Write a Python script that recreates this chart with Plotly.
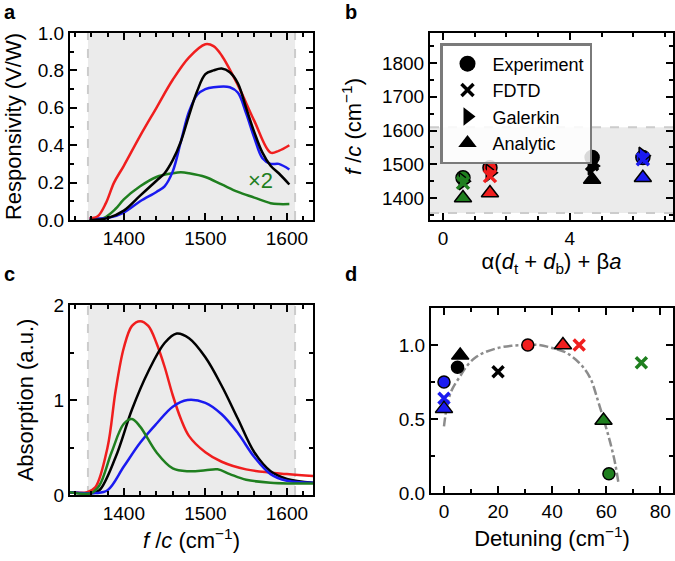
import plotly.graph_objects as go

FONT = "Liberation Sans, Arial, sans-serif"
RED, BLUE, GREEN, BLACK = "#f01e1e", "#1a1af0", "#1f7f1f", "#000000"

# panel a: responsivity spectra
a_red_x = [1358, 1368, 1378, 1388, 1400, 1420, 1440, 1460, 1480, 1500, 1510, 1520, 1540, 1560, 1580, 1590, 1603]
a_red_y = [0.01, 0.02, 0.09, 0.2, 0.29, 0.45, 0.6, 0.75, 0.87, 0.94, 0.93, 0.88, 0.72, 0.53, 0.36, 0.37, 0.4]
a_blk_x = [1358, 1380, 1400, 1420, 1440, 1450, 1460, 1470, 1480, 1490, 1500, 1510, 1520, 1530, 1540, 1550, 1560, 1570, 1580, 1590, 1603]
a_blk_y = [0.0, 0.01, 0.05, 0.13, 0.21, 0.25, 0.32, 0.42, 0.56, 0.69, 0.78, 0.8, 0.81, 0.79, 0.73, 0.6, 0.47, 0.36, 0.29, 0.25, 0.19]
a_blu_x = [1358, 1380, 1400, 1420, 1440, 1450, 1460, 1470, 1480, 1490, 1500, 1510, 1530, 1540, 1550, 1560, 1570, 1580, 1590, 1603]
a_blu_y = [0.01, 0.01, 0.04, 0.1, 0.15, 0.18, 0.26, 0.42, 0.58, 0.67, 0.7, 0.71, 0.71, 0.68, 0.57, 0.44, 0.33, 0.3, 0.3, 0.27]
a_grn_x = [1358, 1375, 1390, 1400, 1420, 1440, 1460, 1470, 1480, 1500, 1520, 1540, 1560, 1580, 1590, 1603]
a_grn_y = [0.0, 0.01, 0.06, 0.11, 0.18, 0.23, 0.25, 0.255, 0.25, 0.23, 0.19, 0.15, 0.12, 0.09, 0.085, 0.085]

# panel c: absorption spectra
c_red_x = [1334, 1355, 1365, 1380, 1390, 1400, 1410, 1420, 1430, 1440, 1450, 1460, 1470, 1480, 1500, 1520, 1550, 1600, 1632]
c_red_y = [0.03, 0.03, 0.08, 0.5, 1.1, 1.55, 1.78, 1.83, 1.78, 1.6, 1.35, 1.05, 0.8, 0.62, 0.45, 0.35, 0.27, 0.22, 0.2]
c_blk_x = [1334, 1360, 1370, 1390, 1410, 1430, 1450, 1465, 1480, 1500, 1520, 1540, 1560, 1580, 1600, 1632]
c_blk_y = [0.03, 0.02, 0.05, 0.4, 0.9, 1.3, 1.6, 1.7, 1.65, 1.45, 1.15, 0.8, 0.45, 0.25, 0.17, 0.13]
c_blu_x = [1334, 1365, 1380, 1400, 1420, 1440, 1460, 1478, 1500, 1520, 1540, 1560, 1580, 1600, 1632]
c_blu_y = [0.03, 0.02, 0.05, 0.3, 0.55, 0.75, 0.93, 1.0, 0.97, 0.85, 0.65, 0.4, 0.22, 0.15, 0.13]
c_grn_x = [1334, 1360, 1370, 1385, 1400, 1410, 1420, 1440, 1460, 1480, 1500, 1515, 1530, 1550, 1580, 1632]
c_grn_y = [0.03, 0.02, 0.1, 0.45, 0.75, 0.8, 0.72, 0.45, 0.28, 0.25, 0.26, 0.27, 0.22, 0.16, 0.13, 0.12]

# panel b: resonance frequency vs geometry parameter
b_x = [0.63, 1.48, 4.7, 6.3]
b_colors = [GREEN, RED, BLACK, BLUE]
b_exp = [1460, 1490, 1520, 1520]
b_fdtd = [1445, 1465, 1500, 1515]
b_gal = [1450, 1475, 1495, 1525]
b_ana = [1400, 1415, 1455, 1460]

# panel d: normalised peak vs detuning
d_exp_x, d_exp_y = [0, 5, 31, 61], [0.75, 0.85, 1.0, 0.13]
d_exp_c = [BLUE, BLACK, RED, GREEN]
d_fdtd_x, d_fdtd_y = [0, 20, 50, 73], [0.64, 0.82, 1.0, 0.88]
d_fdtd_c = [BLUE, BLACK, RED, GREEN]
d_ana_x, d_ana_y = [0, 6, 44, 59], [0.57, 0.93, 1.0, 0.49]
d_ana_c = [BLUE, BLACK, RED, GREEN]
d_fit_x = [0, 0.5, 1.5, 3, 6, 9, 12, 15, 20, 25, 30, 35, 40, 45, 50, 54, 57, 59.5, 61.5, 63.3, 64.5]
d_fit_y = [0.45, 0.52, 0.62, 0.70, 0.79, 0.87, 0.92, 0.95, 0.98, 0.995, 1.0, 1.0, 0.98, 0.95, 0.88, 0.78,
           0.62, 0.47, 0.34, 0.2, 0.07]

fig = go.Figure()


def line(x, y, color, xa, ya):
    fig.add_trace(go.Scatter(x=x, y=y, mode="lines", line=dict(color=color, width=2.5, shape="spline"),
                             xaxis=xa, yaxis=ya, showlegend=False))


for x, y, c in [(a_grn_x, a_grn_y, GREEN), (a_blu_x, a_blu_y, BLUE), (a_red_x, a_red_y, RED), (a_blk_x, a_blk_y, BLACK)]:
    line(x, y, c, "x", "y")
for x, y, c in [(c_red_x, c_red_y, RED), (c_blk_x, c_blk_y, BLACK), (c_blu_x, c_blu_y, BLUE), (c_grn_x, c_grn_y, GREEN)]:
    line(x, y, c, "x3", "y3")

outline = dict(color="black", width=1.5)
fig.add_trace(go.Scatter(x=b_x, y=b_exp, mode="markers", xaxis="x2", yaxis="y2", showlegend=False,
                         marker=dict(symbol="circle", size=14, color=b_colors, line=outline)))
fig.add_trace(go.Scatter(x=b_x, y=b_gal, mode="markers", xaxis="x2", yaxis="y2", showlegend=False,
                         marker=dict(symbol="triangle-right", size=15, color=b_colors, line=outline)))
fig.add_trace(go.Scatter(x=b_x, y=b_fdtd, mode="markers", xaxis="x2", yaxis="y2", showlegend=False,
                         marker=dict(symbol="x-thin", size=12, color=b_colors, line=dict(color=b_colors, width=3.5))))
fig.add_trace(go.Scatter(x=b_x, y=b_ana, mode="markers", xaxis="x2", yaxis="y2", showlegend=False,
                         marker=dict(symbol="triangle-up", size=15, color=b_colors, line=outline)))

# legend entries (black markers)
leg = [("Experiment", "circle"), ("FDTD", "x-thin"), ("Galerkin", "triangle-right"), ("Analytic", "triangle-up")]
for i, (name, sym) in enumerate(leg):
    mk = dict(symbol=sym, size=16, color="black")
    if sym == "x-thin":
        mk["line"] = dict(color="black", width=3.5)
        mk["size"] = 12
    fig.add_trace(go.Scatter(x=[None], y=[None], mode="markers", name=name, marker=mk,
                             legendgroup=str(i), xaxis="x2", yaxis="y2"))

fig.add_trace(go.Scatter(x=d_fit_x, y=d_fit_y, mode="lines", xaxis="x4", yaxis="y4", showlegend=False,
                         line=dict(color="#8c8c8c", width=2.5, dash="dashdot", shape="spline")))
fig.add_trace(go.Scatter(x=d_exp_x, y=d_exp_y, mode="markers", xaxis="x4", yaxis="y4", showlegend=False,
                         marker=dict(symbol="circle", size=12, color=d_exp_c, line=outline)))
fig.add_trace(go.Scatter(x=d_fdtd_x, y=d_fdtd_y, mode="markers", xaxis="x4", yaxis="y4", showlegend=False,
                         marker=dict(symbol="x-thin", size=11, line=dict(color=d_fdtd_c, width=3.5))))
fig.add_trace(go.Scatter(x=d_ana_x, y=d_ana_y, mode="markers", xaxis="x4", yaxis="y4", showlegend=False,
                         marker=dict(symbol="triangle-up", size=15, color=d_ana_c, line=outline)))

W, H = 675, 561


def ax(x0, x1, anchor, rng, dtick, mdtick, fmt=None, horiz=True, title=None, standoff=8):
    d = dict(domain=[x0 / W, x1 / W] if horiz else [1 - x1 / H, 1 - x0 / H], anchor=anchor, range=rng,
             showline=True, linecolor="black", linewidth=2, mirror="ticks", ticks="inside", ticklen=7,
             tickwidth=2, tickcolor="black", showgrid=False, zeroline=False, dtick=dtick, automargin=False,
             tickfont=dict(family=FONT, size=19, color="black"),
             minor=dict(ticks="inside", ticklen=4, tickwidth=2, tickcolor="black", dtick=mdtick, showgrid=False))
    if fmt:
        d["tickformat"] = fmt
    if title:
        d["title"] = dict(text=title, font=dict(family=FONT, size=22, color="black"), standoff=standoff)
    return d


fc = "<i>f</i> /<i>c</i> (cm<sup>\u22121</sup>)"
fig.update_layout(
    width=W, height=H, margin=dict(l=0, r=0, t=0, b=0),
    paper_bgcolor="white", plot_bgcolor="white",
    xaxis=ax(70, 313, "y", [1334, 1632], 100, 20),
    yaxis=ax(33, 220, "x", [0, 1.0], 0.2, 0.1, ".1f", False, "Responsivity (V/W)", 10),
    xaxis2=ax(430, 673, "y2", [-0.41, 7.25], 4, 1,
              title="\u03b1(<i>d</i><sub>t</sub> + <i>d</i><sub>b</sub>) + \u03b2<i>a</i>", standoff=6),
    yaxis2=ax(33, 220, "x2", [1335, 1889], 100, 50, None, False, fc, 14),
    xaxis3=ax(70, 313, "y3", [1334, 1632], 100, 20, title=fc, standoff=10),
    yaxis3=ax(305, 495, "x3", [0, 2], 1, 0.5, None, False, "Absorption (a.u.)", 14),
    xaxis4=ax(431, 673, "y4", [-4.8, 84.7], 20, 10, title="Detuning (cm<sup>\u22121</sup>)", standoff=10),
    yaxis4=ax(308, 493, "x4", [0, 1.25], 0.5, 0.25, ".1f", False),
    legend=dict(x=440 / W, y=1 - 43 / H, xanchor="left", yanchor="top", bgcolor="rgba(255,255,255,0.85)",
                bordercolor="#7a7a7a", borderwidth=2.5, tracegroupgap=0, itemwidth=40,
                font=dict(family=FONT, size=18, color="black")),
    showlegend=True,
)

# shaded spectral window
band = dict(fillcolor="#ebebeb", line_width=0, layer="below")
dash = dict(color="#cccccc", width=2, dash="dash")
for xa, ya in [("x", "y"), ("x3", "y3")]:
    fig.add_shape(type="rect", xref=xa, yref=ya + " domain", x0=1356, x1=1610, y0=0, y1=1, **band)
    for xv in [1356, 1610]:
        fig.add_shape(type="line", xref=xa, yref=ya + " domain", x0=xv, x1=xv, y0=0, y1=1, line=dash, layer="below")
fig.add_shape(type="rect", xref="x2 domain", yref="y2", x0=0, x1=1, y0=1356, y1=1610, **band)
for yv in [1356, 1610]:
    fig.add_shape(type="line", xref="x2 domain", yref="y2", x0=0, x1=1, y0=yv, y1=yv, line=dash, layer="below")

fig.add_annotation(x=1568, y=0.21, xref="x", yref="y", text="\u00d72", showarrow=False,
                   font=dict(family=FONT, size=22, color=GREEN))
for t, x, y in [("a", 2, 12), ("b", 343, 12), ("c", 2, 274), ("d", 343, 274)]:
    fig.add_annotation(x=x / W, y=1 - y / H, xref="paper", yref="paper", text="<b>" + t + "</b>",
                       showarrow=False, xanchor="left", yanchor="middle",
                       font=dict(family=FONT, size=20, color="black"))

fig.write_html("out.html", config={"displayModeBar": False},
               post_script="document.body.style.margin='0';")
